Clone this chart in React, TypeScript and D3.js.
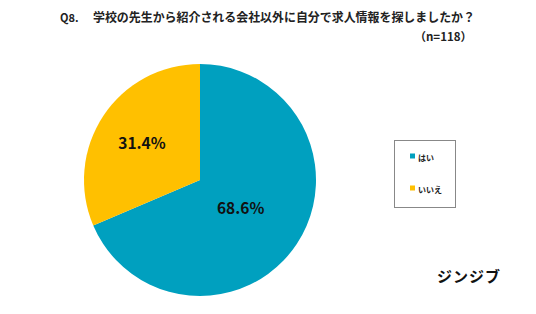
import React from "react";
import * as d3 from "d3";

const categories = ["はい", "いいえ"];
const values = [68.6, 31.4];
const colors = ["#00A0BF", "#FFC000"];
const labelRadiusRatio = [0.42, 0.6];
const title = "学校の先生から紹介される会社以外に自分で求人情報を探しましたか？";

export default function App() {
  const W = 536, H = 314;
  const cx = 200, cy = 180, r = 116;
  const pie = d3.pie<number>().sort(null).value((d) => d);
  const arcs = pie(values);
  const arc = d3.arc<d3.PieArcDatum<number>>().innerRadius(0).outerRadius(r);
  const font = "'Noto Sans CJK JP', 'Noto Sans', sans-serif";
  return (
    <svg width={W} height={H} style={{ position: "absolute", left: 0, top: 0, background: "#fff" }} fontFamily={font}>
      <text x={60} y={22} fontSize={11} fontWeight="bold" fill="#222">Q8.</text>
      <text x={93} y={22} fontSize={12.5} fontWeight="bold" fill="#222" textLength={382} lengthAdjust="spacingAndGlyphs">{title}</text>
      <text x={472} y={41} fontSize={11.5} fontWeight="bold" fill="#222" textAnchor="end">（n=118）</text>
      <g transform={`translate(${cx},${cy})`}>
        {arcs.map((a, i) => (
          <path key={i} d={arc(a) || ""} fill={colors[i]} />
        ))}
        {arcs.map((a, i) => {
          const rr = r * labelRadiusRatio[i];
          const la = d3.arc<d3.PieArcDatum<number>>().innerRadius(rr).outerRadius(rr);
          const [x, y] = la.centroid(a);
          return (
            <text key={"l" + i} x={x} y={y} fontSize={15.5} fontWeight={600} fill="#111" textAnchor="middle" dominantBaseline="central">
              {values[i].toFixed(1)}%
            </text>
          );
        })}
      </g>
      <rect x={394.5} y={140.5} width={61} height={67} fill="#fff" stroke="#888" strokeWidth={1} />
      {categories.map((c, i) => (
        <g key={c} transform={`translate(410,${157 + i * 32})`}>
          <rect x={0} y={-3.5} width={5} height={5} fill={colors[i]} />
          <text x={8} y={0} fontSize={8} fontWeight="bold" fill="#222" dominantBaseline="central">{c}</text>
        </g>
      ))}
      <text x={469} y={282} fontSize={15} fontWeight="bold" fill="#111" textAnchor="middle" letterSpacing={1}>ジンジブ</text>
    </svg>
  );
}
